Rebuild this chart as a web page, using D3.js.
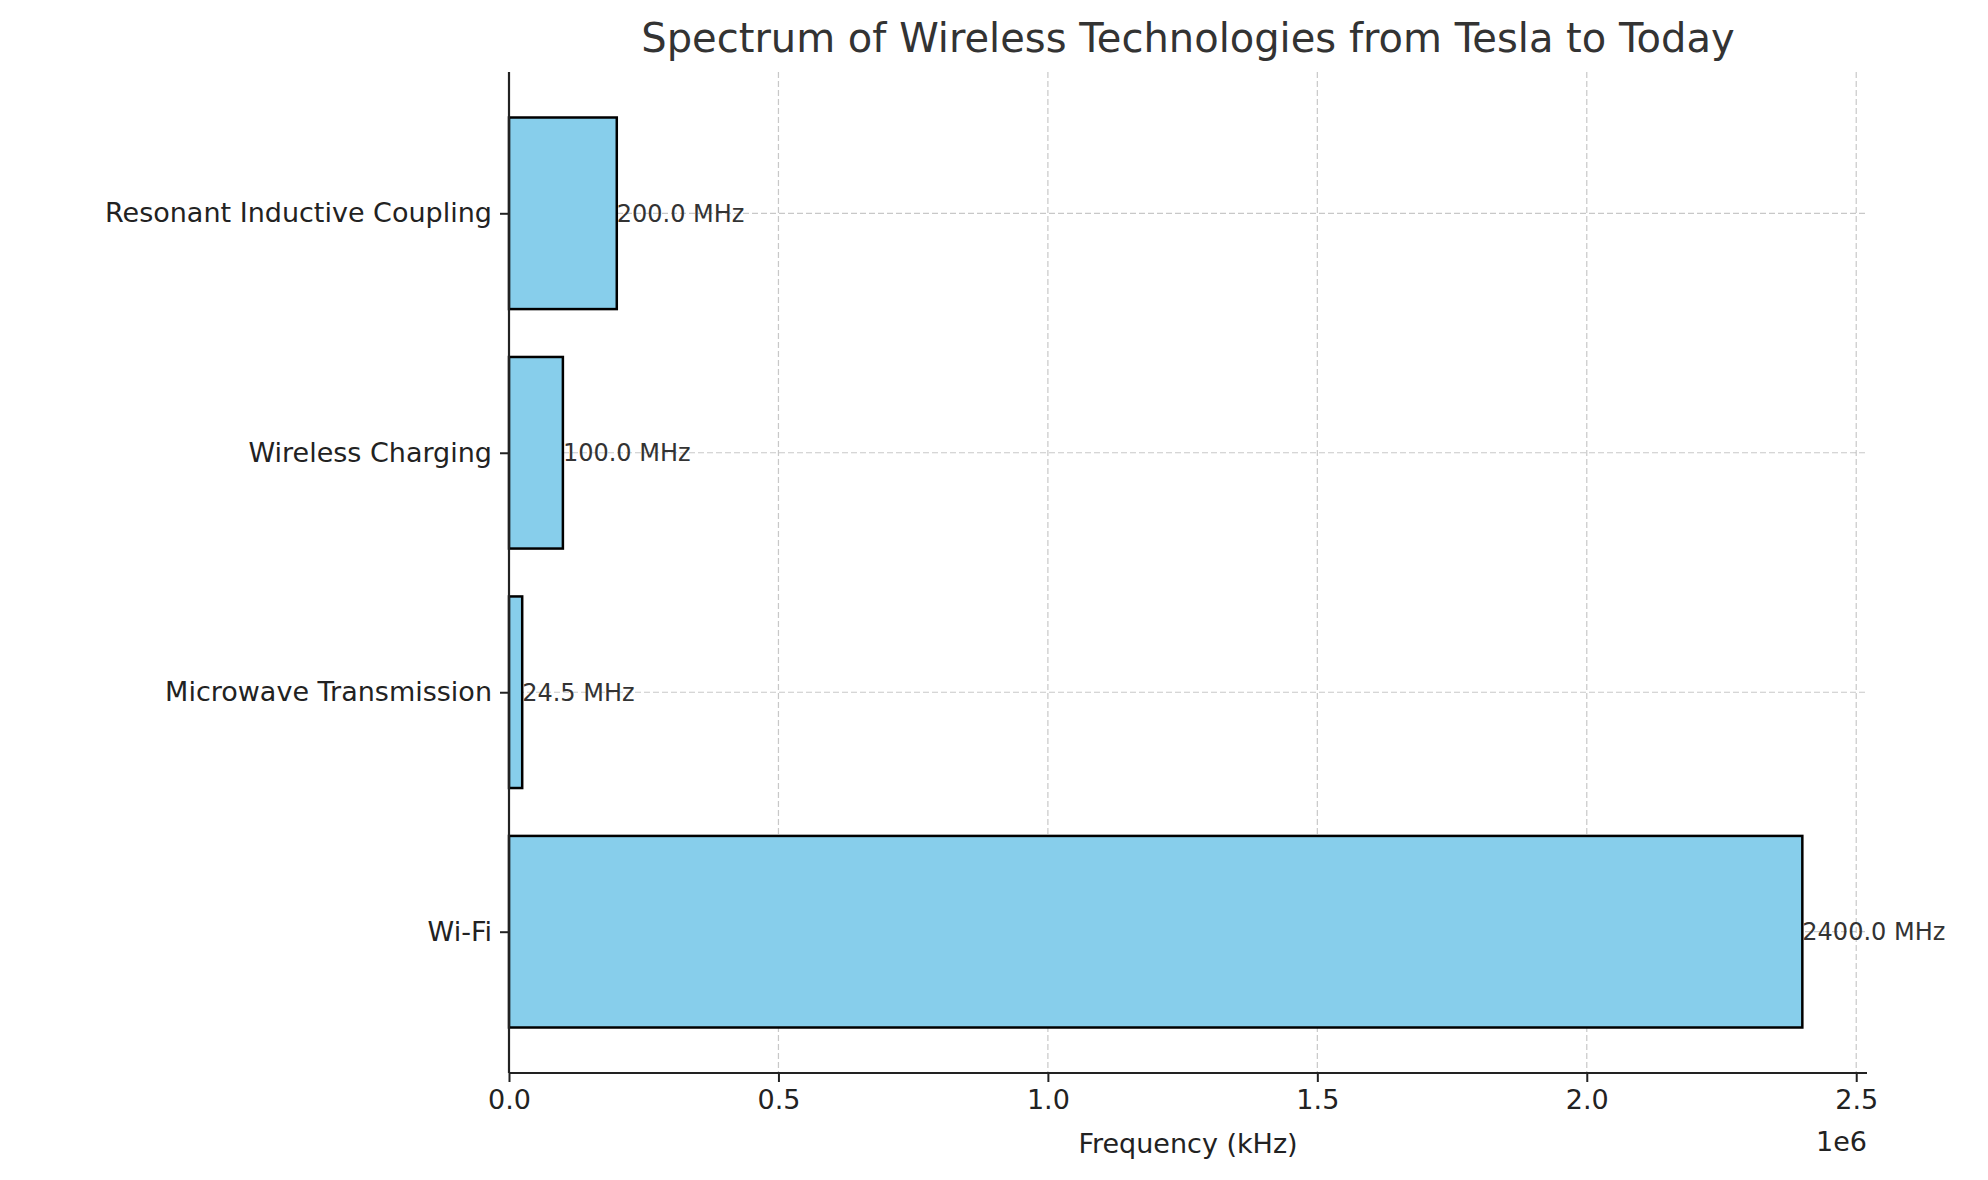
<!DOCTYPE html>
<html><head><meta charset="utf-8">
<script src="https://cdn.jsdelivr.net/npm/d3@7"></script>
<style>body{margin:0;background:#fff}text{font-family:"DejaVu Sans",sans-serif}</style>
</head><body><div id="chart"></div>
<script>
// 數據
const categories = ["Wi-Fi", "Microwave Transmission", "Wireless Charging", "Resonant Inductive Coupling"];
const values = [2400000, 24500, 100000, 200000]; // kHz
const xTicks = [0, 0.5e6, 1e6, 1.5e6, 2e6, 2.5e6];

const W = 1988, H = 1180;
const margin = { top: 72, right: 121, bottom: 107, left: 509 };
const width = W - margin.left - margin.right;
const height = H - margin.top - margin.bottom;

const svg = d3.select("#chart").append("svg").attr("width", W).attr("height", H);
const g = svg.append("g").attr("transform", `translate(${margin.left},${margin.top})`);

const x = d3.scaleLinear().domain([0, 2.52e6]).range([0, width]);
const y = d3.scaleLinear().domain([-0.59, 3.59]).range([height, 0]);
const bh = y(0) - y(0.8);

// 網格線
g.selectAll(".vgrid").data(xTicks).join("line")
  .attr("x1", d => x(d)).attr("x2", d => x(d)).attr("y1", 0).attr("y2", height)
  .attr("stroke", "#b0b0b0").attr("stroke-opacity", 0.7).attr("stroke-dasharray", "6,3").attr("stroke-width", 1.2);
g.selectAll(".hgrid").data(categories).join("line")
  .attr("x1", 0).attr("x2", width).attr("y1", (d, i) => y(i)).attr("y2", (d, i) => y(i))
  .attr("stroke", "#b0b0b0").attr("stroke-opacity", 0.7).attr("stroke-dasharray", "6,3").attr("stroke-width", 1.2);

// 條形
g.selectAll(".bar").data(values).join("rect")
  .attr("x", x(0)).attr("y", (d, i) => y(i + 0.4))
  .attr("width", d => x(d) - x(0)).attr("height", bh)
  .attr("fill", "#87CEEB").attr("stroke", "#000").attr("stroke-width", 2.5);

// 數值標籤
g.selectAll(".lbl").data(values).join("text")
  .attr("x", d => x(d)).attr("y", (d, i) => y(i)).attr("dy", "0.35em")
  .attr("font-size", 24).attr("fill", "#333")
  .text(d => (d / 1000).toFixed(1) + " MHz");

// 軸
const xa = g.append("g").attr("transform", `translate(0,${height})`)
  .call(d3.axisBottom(x).tickValues(xTicks).tickFormat(d => (d / 1e6).toFixed(1)).tickSize(9).tickPadding(8));
const ya = g.append("g")
  .call(d3.axisLeft(y).tickValues([0, 1, 2, 3]).tickFormat(i => categories[i]).tickSize(9).tickPadding(8));
[xa, ya].forEach(a => {
  a.select(".domain").attr("stroke-width", 2.2).attr("stroke", "#222");
  a.selectAll(".tick line").attr("stroke-width", 2).attr("stroke", "#222");
  a.selectAll("text").attr("font-size", 27).attr("fill", "#222").style("font-family", "DejaVu Sans");
});
xa.select(".domain").attr("d", `M0,0H${width}`);
ya.select(".domain").attr("d", `M0,0V${height}`);

svg.append("text").attr("x", margin.left + width).attr("y", margin.top + height + 78)
  .attr("text-anchor", "end").attr("font-size", 27).attr("fill", "#222").text("1e6");
svg.append("text").attr("x", margin.left + width / 2).attr("y", margin.top + height + 80)
  .attr("text-anchor", "middle").attr("font-size", 27).attr("fill", "#222").text("Frequency (kHz)");
svg.append("text").attr("x", margin.left + width / 2).attr("y", 52)
  .attr("text-anchor", "middle").attr("font-size", 40).attr("fill", "#333")
  .text("Spectrum of Wireless Technologies from Tesla to Today");
</script></body></html>
